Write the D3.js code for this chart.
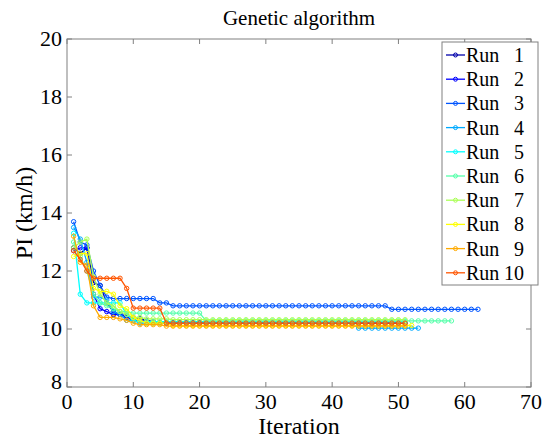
<!DOCTYPE html>
<html><head><meta charset="utf-8">
<script src="https://cdn.jsdelivr.net/npm/d3@7/dist/d3.min.js"></script>
</head><body style="margin:0"><svg id="c" width="547" height="440"></svg>
<script>
const title = "Genetic algorithm";
const xLabel = "Iteration";
const yLabel = "PI (km/h)";
const xTicks = [0,10,20,30,40,50,60,70];
const yTicks = [8,10,12,14,16,18,20];
const runNames = ["Run  1","Run  2","Run  3","Run  4","Run  5","Run  6","Run  7","Run  8","Run  9","Run 10"];
const colors = ["#0000aa","#0000ff","#0055ff","#00aaff","#00ffff","#55ffaa","#aaff55","#ffff00","#ffaa00","#ff5500"];

const run1 = [12.8,12.6,12.8,11.6,11.5,10.9,10.6,10.5,10.45,10.4,
  10.35,10.3,10.25,10.22,10.2,10.2,10.2,10.2,10.2,10.2,
  10.2,10.2,10.2,10.2,10.2,10.2,10.2,10.2,10.2,10.2,
  10.2,10.2,10.2,10.2,10.2,10.2,10.2,10.2,10.2,10.2,
  10.2,10.2,10.2,10.2,10.2,10.2,10.2,10.2,10.2,10.2,
  10.2];
const run2 = [12.7,12.8,12.8,11.2,10.7,10.6,10.5,10.5,10.4,10.3,
  10.3,10.25,10.22,10.22,10.22,10.22,10.22,10.22,10.22,10.22,
  10.22,10.22,10.22,10.22,10.22,10.22,10.22,10.22,10.22,10.22,
  10.22,10.22,10.22,10.22,10.22,10.22,10.22,10.22,10.22,10.22,
  10.22,10.22,10.22,10.22,10.22,10.22,10.22,10.22,10.22,10.22];
const run3 = [13.7,13.0,12.9,12.0,11.5,11.1,11.05,11.05,11.05,11.05,
  11.05,11.05,11.05,10.9,10.9,10.8,10.8,10.8,10.8,10.8,
  10.8,10.8,10.8,10.8,10.8,10.8,10.8,10.8,10.8,10.8,
  10.8,10.8,10.8,10.8,10.8,10.8,10.8,10.8,10.8,10.8,
  10.8,10.8,10.8,10.8,10.8,10.8,10.8,10.8,10.68,10.68,
  10.68,10.68,10.68,10.68,10.68,10.68,10.68,10.68,10.68,10.68,
  10.68,10.68];
const run4 = [13.5,13.1,12.3,11.1,11.1,11.0,10.6,10.5,10.3,10.3,
  10.2,10.2,10.2,10.2,10.2,10.2,10.2,10.2,10.2,10.2,
  10.2,10.2,10.2,10.2,10.2,10.2,10.2,10.2,10.2,10.2,
  10.2,10.2,10.2,10.2,10.2,10.2,10.2,10.2,10.2,10.2,
  10.2,10.2,10.2,10.03,10.03,10.03,10.03,10.03,10.03,10.03,
  10.03,10.03,10.03];
const run5 = [13.3,11.2,10.9,10.9,10.9,10.9,10.9,10.9,10.5,10.3,
  10.25,10.25,10.25,10.25,10.25,10.25,10.25,10.25,10.25,10.25,
  10.25,10.25,10.25,10.25,10.25,10.25,10.25,10.25,10.25,10.25,
  10.25,10.25,10.25,10.25,10.25,10.25,10.25,10.25,10.25,10.25,
  10.25,10.25,10.25,10.25,10.25,10.25,10.25,10.25,10.25,10.25,
  10.25];
const run6 = [13.0,12.5,12.0,11.2,10.9,10.8,10.7,10.6,10.6,10.55,
  10.55,10.55,10.55,10.55,10.55,10.55,10.55,10.55,10.55,10.55,
  10.28,10.28,10.28,10.28,10.28,10.28,10.28,10.28,10.28,10.28,
  10.28,10.28,10.28,10.28,10.28,10.28,10.28,10.28,10.28,10.28,
  10.28,10.28,10.28,10.28,10.28,10.28,10.28,10.28,10.28,10.28,
  10.28,10.28,10.28,10.28,10.28,10.28,10.28,10.28];
const run7 = [12.8,13.0,13.1,11.8,11.2,10.9,10.8,10.6,10.5,10.4,
  10.4,10.35,10.35,10.35,10.35,10.32,10.32,10.32,10.32,10.32,
  10.32,10.32,10.32,10.32,10.32,10.32,10.32,10.32,10.32,10.32,
  10.32,10.32,10.32,10.32,10.32,10.32,10.32,10.32,10.32,10.32,
  10.32,10.32,10.32,10.32,10.32,10.32,10.32,10.32,10.32,10.32,
  10.32];
const run8 = [12.5,12.6,12.6,11.4,11.3,11.3,11.2,10.8,10.7,10.4,
  10.3,10.2,10.2,10.2,10.2,10.12,10.12,10.12,10.12,10.12,
  10.12,10.12,10.12,10.12,10.12,10.12,10.12,10.12,10.12,10.12,
  10.12,10.12,10.12,10.12,10.12,10.12,10.12,10.12,10.12,10.12,
  10.12,10.12,10.12,10.12,10.12,10.12,10.12,10.12,10.12,10.12,
  10.12,10.12];
const run9 = [13.2,12.3,12.2,10.8,10.4,10.4,10.4,10.35,10.3,10.2,
  10.15,10.15,10.15,10.15,10.1,10.1,10.1,10.1,10.1,10.1,
  10.1,10.1,10.1,10.1,10.1,10.1,10.1,10.1,10.1,10.1,
  10.1,10.1,10.1,10.1,10.1,10.1,10.1,10.1,10.1,10.1,
  10.1,10.1,10.1,10.1,10.1,10.1,10.1,10.1,10.1,10.1,
  10.1];
const run10 = [12.7,12.4,12.0,11.75,11.75,11.75,11.75,11.75,11.4,10.72,
  10.72,10.72,10.72,10.72,10.2,10.2,10.2,10.2,10.2,10.2,
  10.2,10.2,10.2,10.2,10.2,10.2,10.2,10.2,10.2,10.2,
  10.2,10.2,10.2,10.2,10.2,10.2,10.2,10.2,10.2,10.2,
  10.2,10.2,10.2,10.2,10.2,10.2,10.2,10.2,10.2,10.2,
  10.2];
const runs = [run1,run2,run3,run4,run5,run6,run7,run8,run9,run10];

const svg = d3.select("#c");
const L = 67, R = 531, T = 39, B = 387;
const x = d3.scaleLinear().domain([0,70]).range([L,R]);
const y = d3.scaleLinear().domain([8,20]).range([B,T]);
const axisCol = "#808080";
const FAM = '"Liberation Serif", "Times New Roman", serif';

function txt(parent, size){
  return parent.append("text").style("font-family",FAM).style("font-size",size+"px");
}

svg.append("rect").attr("x",L).attr("y",T).attr("width",R-L).attr("height",B-T)
  .attr("fill","#fff").attr("stroke",axisCol).attr("stroke-width",1);

const tl = 5;
const tg = svg.append("g").attr("stroke",axisCol).attr("stroke-width",1);
xTicks.forEach(t=>{
  tg.append("line").attr("x1",x(t)).attr("x2",x(t)).attr("y1",B).attr("y2",B-tl);
  tg.append("line").attr("x1",x(t)).attr("x2",x(t)).attr("y1",T).attr("y2",T+tl);
});
yTicks.forEach(t=>{
  tg.append("line").attr("x1",L).attr("x2",L+tl).attr("y1",y(t)).attr("y2",y(t));
  tg.append("line").attr("x1",R).attr("x2",R-tl).attr("y1",y(t)).attr("y2",y(t));
});

xTicks.forEach(d=>{
  txt(svg,22).attr("x",x(d)).attr("y",B+22).attr("text-anchor","middle").text(d);
});
yTicks.forEach(d=>{
  txt(svg,22).attr("x",L-5).attr("y",y(d)+(d===8?2:7)).attr("text-anchor","end").text(d);
});

txt(svg,21).attr("x",(L+R)/2).attr("y",25).attr("text-anchor","middle").text(title);
txt(svg,24).attr("x",(L+R)/2).attr("y",434).attr("text-anchor","middle").text(xLabel);
txt(svg,24).attr("transform",`translate(32,${(T+B)/2}) rotate(-90)`).attr("text-anchor","middle").text(yLabel);

const line = d3.line().x((d,i)=>x(i+1)).y(d=>y(d));
runs.forEach((r,k)=>{
  const g = svg.append("g");
  g.append("path").datum(r).attr("d",line).attr("fill","none").attr("stroke",colors[k]).attr("stroke-width",1.3);
  g.selectAll("circle").data(r).join("circle")
    .attr("cx",(d,i)=>x(i+1)).attr("cy",d=>y(d)).attr("r",2.2)
    .attr("fill","none").attr("stroke",colors[k]).attr("stroke-width",1);
});

const lx = 442, ly = 42, lw = 96, lh = 243, step = 24.2;
svg.append("rect").attr("x",lx).attr("y",ly).attr("width",lw).attr("height",lh)
  .attr("fill","#fff").attr("stroke",axisCol).attr("stroke-width",1);
runNames.forEach((n,k)=>{
  const cy = 55 + k*step;
  svg.append("line").attr("x1",446).attr("x2",465).attr("y1",cy).attr("y2",cy).attr("stroke",colors[k]).attr("stroke-width",1.3);
  svg.append("circle").attr("cx",455.5).attr("cy",cy).attr("r",2).attr("fill","none").attr("stroke",colors[k]);
  const parts = n.split(/\s+/);
  txt(svg,20).attr("x",466).attr("y",cy+7).text(parts[0]);
  txt(svg,20).attr("x",524).attr("y",cy+7).attr("text-anchor","end").text(parts[1]);
});
</script></body></html>
